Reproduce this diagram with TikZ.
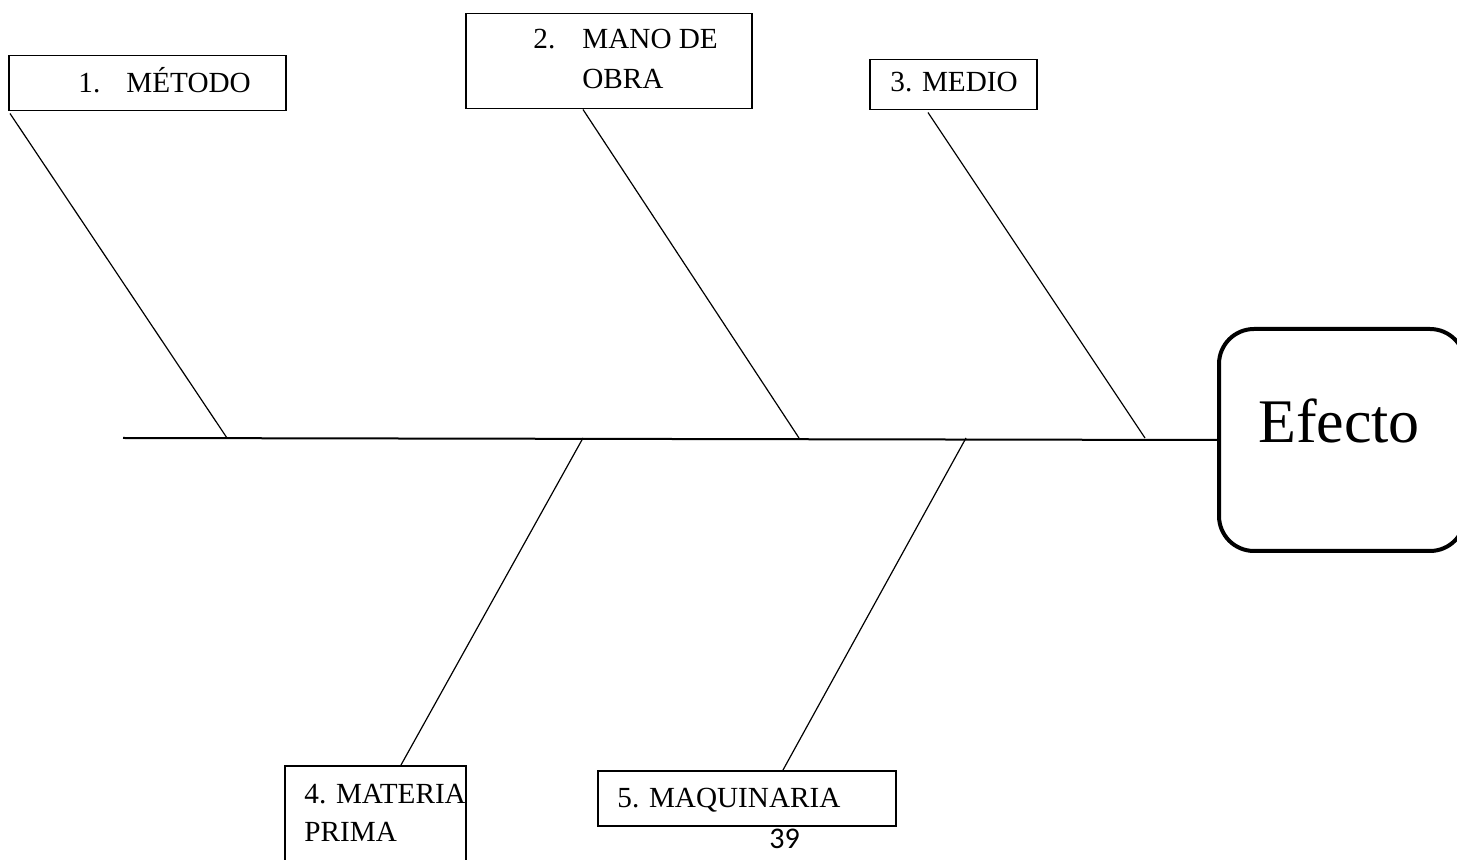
\documentclass[tikz,border=0pt]{standalone}
\usepackage{fontspec}
\setmainfont{Liberation Serif}
\newfontfamily\calibfont{Carlito}
\usetikzlibrary{calc}
\tikzset{
  catbox/.style={draw, line width=0.75pt, rectangle, inner sep=0pt, anchor=north west},
  lbl/.style={anchor=base west, inner sep=0pt, font=\fontsize{14.6pt}{17pt}\selectfont},
  bone/.style={line width=0.6pt},
  spine/.style={line width=1pt},
  effbox/.style={draw, line width=2pt, rounded corners=17.5pt, rectangle, inner sep=0pt, anchor=north west, minimum width=123pt, minimum height=111pt}
}
\begin{document}
\begin{tikzpicture}[x=0.5pt,y=-0.5pt]
\useasboundingbox (0,0) rectangle (1457,860);
\clip (0,0) rectangle (1457,860);
\fill[white] (0,0) rectangle (1457,860);
% category boxes
\node[catbox, minimum width=138.5pt, minimum height=27.5pt] (metodo) at (8,55) {};
\node[catbox, minimum width=143pt, minimum height=47.5pt] (mano) at (465,13) {};
\node[catbox, minimum width=83.5pt, minimum height=25pt] (medio) at (869,59) {};
\node[catbox, minimum width=90.5pt, minimum height=60pt] (materia) at (284,765) {};
\node[catbox, minimum width=149pt, minimum height=27.5pt] (maq) at (597,770) {};
\node[effbox] (efecto) at (1217,327) {};
% texts
\node[lbl] (t1a) at (78,93) {1.};
\node[lbl] (t1b) at (126,93) {MÉTODO};
\node[lbl] (t2a) at (533,49) {2.};
\node[lbl] (t2b) at (582,49) {MANO DE};
\node[lbl] (t2c) at (582,89) {OBRA};
\node[lbl] (t3) at (890,92) {3. MEDIO};
\node[lbl] (t4a) at (304,803) {4. MATERIA};
\node[lbl] (t4b) at (304,841) {PRIMA};
\node[lbl] (t5) at (617,807) {5. MAQUINARIA};
\node[anchor=base, inner sep=0pt, font=\fontsize{31pt}{36pt}\selectfont] (tef) at (1339,443) {Efecto};
\node[anchor=base west, inner sep=0pt, font=\calibfont\fontsize{15pt}{18pt}\selectfont] (page) at (769,848) {39};
% spine
\coordinate (tail) at (123,438);
\coordinate (j1) at (227,438);
\coordinate (j2) at (799,438);
\coordinate (j3) at (1145,438);
\coordinate (j4) at (583,438);
\coordinate (j5) at (966,438);
\draw[spine] (tail) -- (efecto.west);
% bones
\draw[bone] ($(metodo.south west)+(2,2)$) -- (j1);
\draw[bone] ($(mano.south west)+(118,0)$) -- (j2);
\draw[bone] ($(medio.south west)+(59,2)$) -- (j3);
\draw[bone] (j4) -- ($(materia.north west)+(117,0)$);
\draw[bone] (j5) -- ($(maq.north west)+(186,0)$);
\end{tikzpicture}
\end{document}
